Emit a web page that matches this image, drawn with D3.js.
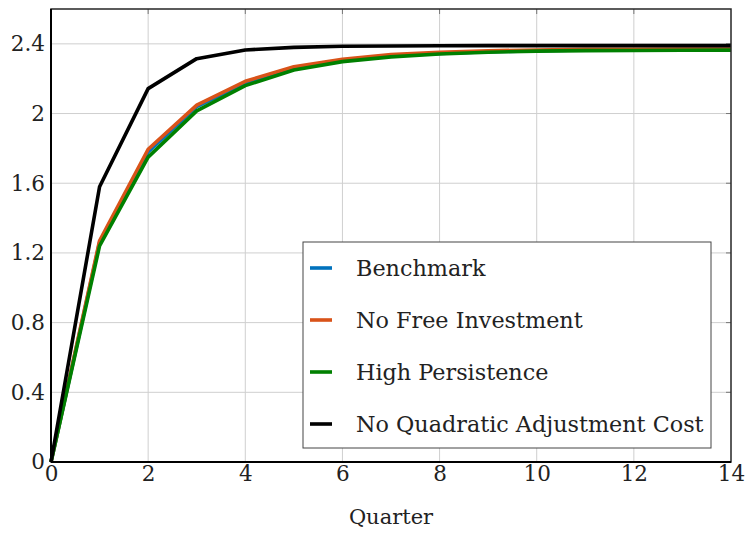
<!DOCTYPE html>
<html>
<head>
<meta charset="utf-8">
<script src="https://cdn.jsdelivr.net/npm/d3@7/dist/d3.min.js"></script>
<style>
  html, body { margin: 0; padding: 0; background: #fff; }
  svg { display: block; }
  text { font-family: "DejaVu Serif", "Liberation Serif", serif; fill: #222; }
</style>
</head>
<body>
<svg id="chart" width="748" height="533"></svg>
<script>
// Quarters after the shock
const quarters = [0, 1, 2, 3, 4, 5, 6, 7, 8, 9, 10, 11, 12, 13, 14];

// Impulse responses for each model variant
const benchmark   = [0, 1.26, 1.78, 2.04, 2.175, 2.26, 2.305, 2.33, 2.345, 2.355, 2.36, 2.365, 2.366, 2.367, 2.368];
const noFreeInv   = [0, 1.27, 1.795, 2.048, 2.185, 2.268, 2.312, 2.338, 2.352, 2.36, 2.365, 2.368, 2.369, 2.37, 2.37];
const highPersist = [0, 1.24, 1.75, 2.015, 2.16, 2.25, 2.298, 2.325, 2.342, 2.352, 2.358, 2.361, 2.362, 2.363, 2.364];
const noQuadCost  = [0, 1.58, 2.143, 2.315, 2.365, 2.38, 2.386, 2.388, 2.389, 2.39, 2.39, 2.39, 2.39, 2.39, 2.39];

const seriesNames  = ["Benchmark", "No Free Investment", "High Persistence", "No Quadratic Adjustment Cost"];
const seriesColors = ["#0072BD", "#D95319", "#008000", "#000000"];
const seriesValues = [benchmark, noFreeInv, highPersist, noQuadCost];

const xTicks = [0, 2, 4, 6, 8, 10, 12, 14];
const yTicks = [0, 0.4, 0.8, 1.2, 1.6, 2, 2.4];
const xLabel = "Quarter";

const margin = { left: 51, top: 9, right: 17, bottom: 71 };
const W = 748, H = 533;
const iw = W - margin.left - margin.right;
const ih = H - margin.top - margin.bottom;

const svg = d3.select("#chart");
const g = svg.append("g").attr("transform", `translate(${margin.left},${margin.top})`);

const x = d3.scaleLinear().domain([0, 14]).range([0, iw]);
const y = d3.scaleLinear().domain([0, 2.6]).range([ih, 0]);

// grid
g.append("g").selectAll("line").data(xTicks.slice(1, -1)).join("line")
  .attr("x1", d => x(d)).attr("x2", d => x(d)).attr("y1", 0).attr("y2", ih)
  .attr("stroke", "#cfcfcf").attr("stroke-width", 1);
g.append("g").selectAll("line").data(yTicks.slice(1)).join("line")
  .attr("x1", 0).attr("x2", iw).attr("y1", d => y(d)).attr("y2", d => y(d))
  .attr("stroke", "#cfcfcf").attr("stroke-width", 1);

// inner ticks on the top and right edges of the box
g.append("g").selectAll("line").data(xTicks.slice(1, -1)).join("line")
  .attr("x1", d => x(d)).attr("x2", d => x(d)).attr("y1", 0).attr("y2", 5)
  .attr("stroke", "#777").attr("stroke-width", 1);
g.append("g").selectAll("line").data(yTicks.slice(1)).join("line")
  .attr("x1", iw - 5).attr("x2", iw).attr("y1", d => y(d)).attr("y2", d => y(d))
  .attr("stroke", "#777").attr("stroke-width", 1);

// lines
const line = d3.line().x((d, i) => x(quarters[i])).y(d => y(d));
seriesValues.forEach((vals, k) => {
  g.append("path").datum(vals)
    .attr("fill", "none")
    .attr("stroke", seriesColors[k])
    .attr("stroke-width", 3.6)
    .attr("stroke-linejoin", "round")
    .attr("d", line);
});

// frame
g.append("rect").attr("x", 0).attr("y", 0).attr("width", iw).attr("height", ih)
  .attr("fill", "none").attr("stroke", "#262626").attr("stroke-width", 1.5);
g.append("line").attr("x1", 0).attr("x2", iw).attr("y1", ih).attr("y2", ih)
  .attr("stroke", "#000").attr("stroke-width", 2);
g.append("line").attr("x1", 0).attr("x2", 0).attr("y1", 0).attr("y2", ih)
  .attr("stroke", "#000").attr("stroke-width", 2);

// axes
const xAxis = d3.axisBottom(x).tickValues(xTicks).tickSize(0).tickPadding(4)
  .tickFormat(d => d3.format("~g")(d));
const yAxis = d3.axisLeft(y).tickValues(yTicks).tickSize(0).tickPadding(6)
  .tickFormat(d => d3.format("~g")(d));

const gx = g.append("g").attr("transform", `translate(0,${ih})`).call(xAxis);
const gy = g.append("g").call(yAxis);
[gx, gy].forEach(a => {
  a.select(".domain").remove();
  a.selectAll("text").attr("font-size", 21.5).attr("fill", "#222")
    .attr("font-family", "'DejaVu Serif', serif");
});

g.append("text").attr("x", iw / 2).attr("y", ih + 62)
  .attr("text-anchor", "middle").attr("font-size", 21).text(xLabel);

// legend
const lg = svg.append("g").attr("transform", "translate(303,242)");
lg.append("rect").attr("width", 408).attr("height", 206)
  .attr("fill", "#fff").attr("stroke", "#444").attr("stroke-width", 1);
seriesNames.forEach((name, k) => {
  const cy = 26 + k * 52;
  lg.append("line").attr("x1", 7).attr("x2", 29).attr("y1", cy).attr("y2", cy)
    .attr("stroke", seriesColors[k]).attr("stroke-width", 3.6);
  lg.append("text").attr("x", 53).attr("y", cy + 8).attr("font-size", 22.3)
    .text(name);
});
</script>
</body>
</html>
